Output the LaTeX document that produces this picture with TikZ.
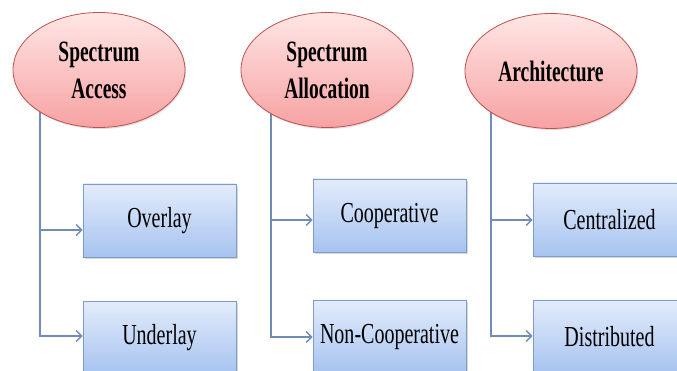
\documentclass[tikz,border=0pt]{standalone}
\usepackage{fontspec}
\setmainfont{Liberation Serif}[FakeStretch=0.66]
\newfontfamily\leaffont{Liberation Serif}[FakeStretch=0.69]
\usetikzlibrary{arrows.meta,shadows,shapes.geometric,backgrounds}

\definecolor{ellborder}{HTML}{C0504D}
\definecolor{elltop}{HTML}{FFE6E6}
\definecolor{ellbot}{HTML}{F7A2A2}
\definecolor{boxborder}{HTML}{7F9CC8}
\definecolor{boxtop}{HTML}{E3ECFB}
\definecolor{boxbot}{HTML}{A6C3F0}
\definecolor{linkcol}{HTML}{6F8DB5}

\tikzset{
  topic/.style={ellipse, draw=ellborder, line width=0.8pt,
    top color=elltop, bottom color=ellbot,
    minimum width=172pt, minimum height=115pt, inner sep=0pt,
    align=center, font=\fontsize{29.5}{37}\selectfont\bfseries,
    drop shadow={shadow xshift=1pt, shadow yshift=-1.5pt, opacity=0.25}},
  leaf/.style={rectangle, draw=boxborder, line width=0.8pt,
    top color=boxtop, bottom color=boxbot,
    minimum width=153pt, minimum height=73pt, inner sep=0pt,
    font=\leaffont\fontsize{29}{34}\selectfont,
    drop shadow={shadow xshift=1.5pt, shadow yshift=-2pt, opacity=0.3}},
  link/.style={draw=linkcol, line width=1.6pt,
    -{Straight Barb[length=5.5pt,width=11pt,line width=1.4pt]}},
}

\begin{document}
\begin{tikzpicture}[x=1pt,y=-1pt]
\useasboundingbox (0,0) rectangle (677,371);
\clip (0,0) rectangle (677,371);

% category ellipses
\node[topic] (access) at (99,70) {Spectrum\\Access};
\node[topic] (alloc)  at (327,70) {Spectrum\\Allocation};
\node[topic] (arch)   at (551,71) {Architecture};

% option boxes
\node[leaf] (overlay)  at (159.5,220.5) {Overlay};
\node[leaf] (underlay) at (159.5,337.5) {Underlay};
\node[leaf] (coop)     at (389.5,215.5) {Cooperative};
\node[leaf] (noncoop)  at (389.5,336.5) {Non-Cooperative};
\node[leaf] (central)  at (609.5,219.5) {Centralized};
\node[leaf] (distrib)  at (609.5,336.5) {Distributed};

% trunk positions
\coordinate (t1) at (40,70);
\coordinate (t2) at (271,70);
\coordinate (t3) at (491,70);

\begin{scope}[on background layer]
  \fill[white] (0,0) rectangle (677,371);
  \draw[link] (t1) |- ([yshift=-9.5pt]overlay.west);
  \draw[link] (t1) |- ([yshift=1.5pt]underlay.west);
  \draw[link] (t2) |- ([yshift=-4.5pt]coop.west);
  \draw[link] (t2) |- ([yshift=-0.5pt]noncoop.west);
  \draw[link] (t3) |- ([yshift=-0.5pt]central.west);
  \draw[link] (t3) |- ([yshift=0.5pt]distrib.west);
\end{scope}
\end{tikzpicture}
\end{document}
